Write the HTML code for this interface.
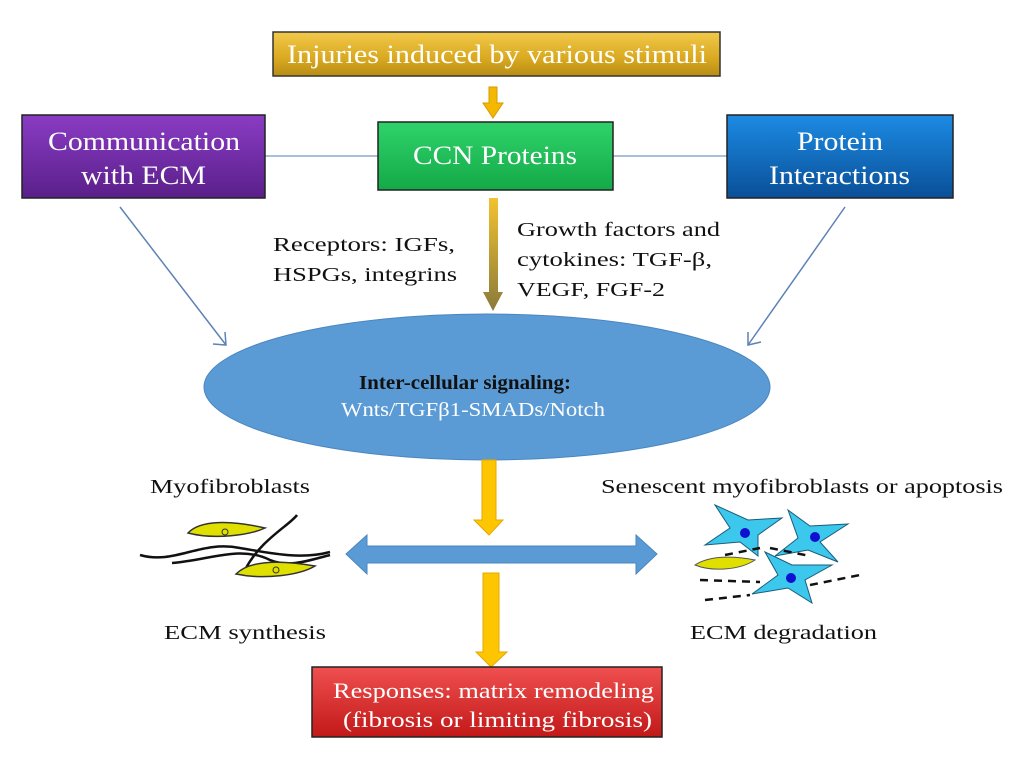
<!DOCTYPE html>
<html><head><meta charset="utf-8"><style>
body{margin:0;background:#fff;}
svg text{font-family:"Liberation Serif",serif;}
</style></head><body>
<svg width="1016" height="757" viewBox="0 0 1016 757" xmlns="http://www.w3.org/2000/svg">
<defs>
<linearGradient id="gy" x1="0" y1="0" x2="0" y2="1"><stop offset="0" stop-color="#f2c94a"/><stop offset="0.6" stop-color="#d9a920"/><stop offset="1" stop-color="#b88d16"/></linearGradient>
<linearGradient id="gp" x1="0" y1="0" x2="0" y2="1"><stop offset="0" stop-color="#8a3cc4"/><stop offset="1" stop-color="#5a1f8a"/></linearGradient>
<linearGradient id="gg" x1="0" y1="0" x2="0" y2="1"><stop offset="0" stop-color="#2fd36a"/><stop offset="1" stop-color="#14a948"/></linearGradient>
<linearGradient id="gb" x1="0" y1="0" x2="0" y2="1"><stop offset="0" stop-color="#1c8be3"/><stop offset="1" stop-color="#0a4f98"/></linearGradient>
<linearGradient id="gr" x1="0" y1="0" x2="0" y2="1"><stop offset="0" stop-color="#f05050"/><stop offset="1" stop-color="#c21818"/></linearGradient>
<linearGradient id="ga" x1="0" y1="0" x2="0" y2="1"><stop offset="0" stop-color="#f2c230"/><stop offset="1" stop-color="#8a7a3a"/></linearGradient>
</defs>
<line x1="265" y1="156" x2="378" y2="156" stroke="#8eaacb" stroke-width="1.5"/>
<line x1="613" y1="156" x2="727" y2="156" stroke="#8eaacb" stroke-width="1.5"/>
<rect x="273" y="32" width="447" height="44" fill="url(#gy)" stroke="#333" stroke-width="1.5"/>
<text x="287" y="63" font-size="26" fill="#fff" textLength="420" lengthAdjust="spacingAndGlyphs">Injuries induced by various stimuli</text>
<polygon points="489,87 497,87 497,103 503,103 493,118 483,103 489,103" fill="#f5b800" stroke="#d99a00"/>
<rect x="22" y="115" width="243" height="83" fill="url(#gp)" stroke="#222" stroke-width="1.5"/>
<text x="48" y="150" font-size="26" fill="#fff" textLength="192" lengthAdjust="spacingAndGlyphs">Communication</text>
<text x="81" y="184" font-size="26" fill="#fff" textLength="125" lengthAdjust="spacingAndGlyphs">with ECM</text>
<rect x="378" y="122" width="235" height="68" fill="url(#gg)" stroke="#222" stroke-width="1.5"/>
<text x="413" y="164" font-size="26" fill="#fff" textLength="164" lengthAdjust="spacingAndGlyphs">CCN Proteins</text>
<rect x="727" y="115" width="226" height="83" fill="url(#gb)" stroke="#222" stroke-width="1.5"/>
<text x="797" y="150" font-size="26" fill="#fff" textLength="86" lengthAdjust="spacingAndGlyphs">Protein</text>
<text x="769" y="184" font-size="26" fill="#fff" textLength="141" lengthAdjust="spacingAndGlyphs">Interactions</text>
<polygon points="489,198 498,198 498,292 503,292 493,311 483,292 489,292" fill="url(#ga)"/>
<text x="273" y="251" font-size="20" fill="#111" textLength="182" lengthAdjust="spacingAndGlyphs">Receptors: IGFs,</text>
<text x="273" y="281" font-size="20" fill="#111" textLength="184" lengthAdjust="spacingAndGlyphs">HSPGs, integrins</text>
<text x="517" y="236" font-size="20" fill="#111" textLength="203" lengthAdjust="spacingAndGlyphs">Growth factors and</text>
<text x="517" y="266" font-size="20" fill="#111" textLength="195" lengthAdjust="spacingAndGlyphs">cytokines: TGF-β,</text>
<text x="517" y="296" font-size="20" fill="#111" textLength="148" lengthAdjust="spacingAndGlyphs">VEGF, FGF-2</text>
<line x1="120" y1="207" x2="226" y2="345" stroke="#5d82b5" stroke-width="1.5"/>
<polyline points="213,344 226,345 225,332" fill="none" stroke="#5d82b5" stroke-width="1.5"/>
<line x1="845" y1="207" x2="748" y2="345" stroke="#5d82b5" stroke-width="1.5"/>
<polyline points="748,332 748,345 761,342" fill="none" stroke="#5d82b5" stroke-width="1.5"/>
<ellipse cx="487" cy="387" rx="283" ry="73" fill="#5b9bd5" stroke="#4a86c0"/>
<text x="359" y="389" font-size="20" font-weight="bold" fill="#111" textLength="212" lengthAdjust="spacingAndGlyphs">Inter-cellular signaling:</text>
<text x="341" y="416" font-size="20" fill="#fff" textLength="264" lengthAdjust="spacingAndGlyphs">Wnts/TGFβ1-SMADs/Notch</text>
<polygon points="482,460 496,460 496,520 503,520 489,535 474,520 482,520" fill="#fec600" stroke="#e6a800"/>
<polygon points="346,554 367,535 367,546 636,546 636,535 657,554 636,574 636,563 367,563 367,574" fill="#5b9bd5" stroke="#4a86c0"/>
<polygon points="483,573 499,573 499,652 507,652 491,667 476,652 483,652" fill="#fec600" stroke="#e6a800"/>
<text x="150" y="493" font-size="20" fill="#111" textLength="160" lengthAdjust="spacingAndGlyphs">Myofibroblasts</text>
<text x="601" y="493" font-size="20" fill="#111" textLength="402" lengthAdjust="spacingAndGlyphs">Senescent myofibroblasts or apoptosis</text>
<text x="164" y="639" font-size="20" fill="#111" textLength="162" lengthAdjust="spacingAndGlyphs">ECM synthesis</text>
<text x="690" y="639" font-size="20" fill="#111" textLength="187" lengthAdjust="spacingAndGlyphs">ECM degradation</text>
<g stroke="#111" stroke-width="2.5" fill="none">
<path d="M140,555 C175,565 200,540 240,548 C270,553 300,560 330,552"/>
<path d="M172,563 C210,560 240,545 270,560 C290,568 310,560 330,555"/>
<path d="M245,570 C260,540 290,525 297,515"/>
</g>
<path d="M188,533 C200,520 230,520 265,528 C250,535 215,540 188,533Z" fill="#e0e000" stroke="#333" stroke-width="1.5"/>
<circle cx="225" cy="532" r="3" fill="none" stroke="#333"/>
<path d="M236,574 C250,560 280,560 315,566 C300,575 265,580 236,574Z" fill="#e0e000" stroke="#333" stroke-width="1.5"/>
<circle cx="276" cy="570" r="3" fill="none" stroke="#333"/>
<g fill="#3cc8ec" stroke="#1a5c7a" stroke-width="1">
<path d="M715,505 L748,520 L782,518 L758,535 L758,556 L740,542 L705,545 L730,528Z"/>
<path d="M788,510 L810,526 L848,524 L820,542 L838,562 L808,550 L775,556 L798,538Z"/>
<path d="M765,552 L792,565 L832,565 L805,580 L812,603 L788,588 L752,594 L778,575Z"/>
</g>
<circle cx="745" cy="533" r="5" fill="#1010d0"/>
<circle cx="815" cy="537" r="5" fill="#1010d0"/>
<circle cx="791" cy="578" r="5" fill="#1010d0"/>
<path d="M695,565 C710,555 735,556 755,560 C740,570 712,572 695,565Z" fill="#e0e000" stroke="#555"/>
<g stroke="#111" stroke-width="2.5" stroke-dasharray="8,6" fill="none">
<path d="M700,580 L760,582"/>
<path d="M705,600 L750,595"/>
<path d="M725,555 L760,548"/>
<path d="M770,548 L810,556"/>
<path d="M810,585 L860,575"/>
</g>
<rect x="312" y="667" width="350" height="70" fill="url(#gr)" stroke="#222" stroke-width="1.5"/>
<text x="333" y="698" font-size="22" fill="#fff" textLength="321" lengthAdjust="spacingAndGlyphs">Responses: matrix remodeling</text>
<text x="343" y="727" font-size="22" fill="#fff" textLength="309" lengthAdjust="spacingAndGlyphs">(fibrosis or limiting fibrosis)</text>
</svg>
</body></html>
